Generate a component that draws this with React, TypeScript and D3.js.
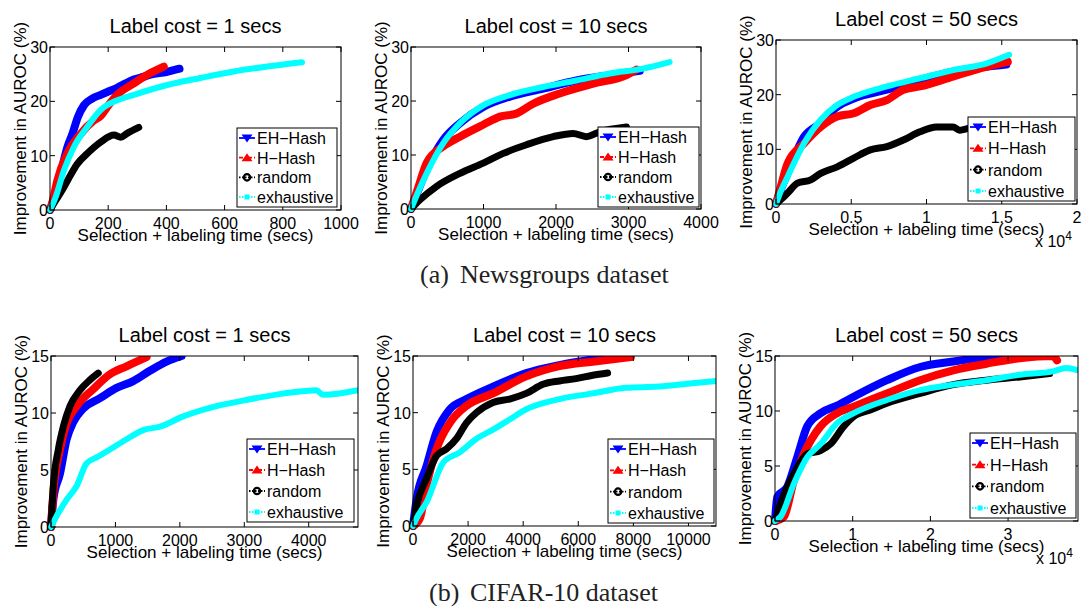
import React from 'react';
import * as d3 from 'd3';

type Pt = [number, number];

// Newsgroups dataset, label cost = 1 s
const news1EH: Pt[] = [[0,0],[10,1.5],[25,4.2],[42,7.9],[60,11.6],[77,14],[95,17],[117,19.3],[145,20.5],[174,21.2],[200,21.8],[231,22.5],[260,23.3],[288,24],[320,24.5],[345,24.9],[400,25.4],[445,26]];
const news1H: Pt[] = [[0,0],[10,1.8],[25,5.4],[60,10.4],[105,14],[151,16.5],[174,17.3],[197,19],[231,21.2],[288,23.3],[345,25.2],[391,26.4]];
const news1Rand: Pt[] = [[0,0],[19,1.7],[40,3.5],[60,5.4],[94,8.5],[128,10.4],[174,12.5],[220,13.8],[243,13.4],[265,14.1],[305,15.2]];
const news1Exh: Pt[] = [[0,0],[19,2.3],[48,7.3],[82,11.6],[128,15.3],[174,18.4],[231,20.2],[288,21.2],[403,23],[517,24.3],[632,25.5],[746,26.4],[866,27.2]];

// Newsgroups dataset, label cost = 10 s
const news10EH: Pt[] = [[0,0],[100,3.5],[216,7.3],[445,12.8],[675,15.9],[996,18.9],[1364,20.8],[1823,22.3],[2282,23.8],[2741,24.8],[3154,25.6]];
const news10H: Pt[] = [[0,0],[100,4],[216,8.5],[445,11.6],[675,13.4],[996,15.6],[1226,17.1],[1456,17.7],[1686,19.5],[2053,21.4],[2512,23.2],[2971,24.8],[3108,25.8]];
const news10Rand: Pt[] = [[0,0],[124,1.7],[354,4.2],[675,6.6],[996,8.5],[1272,10.3],[1593,11.9],[1961,13.4],[2236,14],[2420,13.4],[2603,14.3],[2971,15.2]];
const news10Exh: Pt[] = [[0,0],[100,3.2],[216,6.6],[445,12.2],[675,15.9],[996,19.2],[1364,21.1],[1823,22.6],[2282,23.8],[2741,25.1],[3200,26],[3567,27.2]];

// Newsgroups dataset, label cost = 50 s
const news50EH: Pt[] = [[0,0],[300,2.5],[770,5.6],[1868,12.3],[2967,14.8],[4066,17.8],[5165,19.3],[7363,20.9],[9560,22.7],[11758,24.2],[13956,25.1],[15300,25.5]];
const news50H: Pt[] = [[0,0],[300,3],[770,7.4],[1868,11.1],[2967,14.1],[4066,16],[5165,16.6],[6264,18.1],[7363,19],[8462,20.9],[9560,21.5],[11758,23.3],[13956,25.1],[15400,26]];
const news50Rand: Pt[] = [[0,0],[400,1],[770,2],[1429,3.8],[2308,4.4],[2967,5.6],[4066,6.8],[5165,8.4],[6264,9.9],[7363,10.5],[8462,11.7],[9560,13.2],[10659,14.1],[11758,14.1],[12198,13.5],[13077,14.1],[14500,15]];
const news50Exh: Pt[] = [[0,0],[300,2.2],[770,5],[1868,11.1],[2967,15.4],[4066,18.1],[5165,19.6],[7363,21.5],[9560,23],[11758,24.5],[13956,25.7],[15495,27.3]];

// CIFAR-10 dataset, label cost = 1 s
const cifar1EH: Pt[] = [[0,0],[36,2.4],[140,4.7],[243,7.7],[346,9.2],[501,10.4],[760,11.3],[1018,12.2],[1276,12.8],[1535,13.7],[1793,14.5],[2026,15]];
const cifar1H: Pt[] = [[0,0],[36,3],[140,6.8],[243,9.1],[398,10.6],[656,12.1],[915,13.4],[1173,14.1],[1483,14.9]];
const cifar1Rand: Pt[] = [[0,0],[36,3.6],[114,6.8],[191,8.8],[295,10.6],[450,12],[605,12.9],[734,13.5]];
const cifar1Exh: Pt[] = [[0,0],[62,0.7],[243,2.4],[398,3.6],[553,5.6],[708,6.1],[915,6.8],[1173,7.7],[1432,8.5],[1690,8.8],[2052,9.7],[2568,10.6],[3085,11.2],[3602,11.7],[4119,12],[4222,11.6],[4765,12]];

// CIFAR-10 dataset, label cost = 10 s
const cifar10EH: Pt[] = [[0,0],[133,2.4],[494,5.3],[856,8.3],[1338,10.3],[1941,11.2],[2905,12.3],[4111,13.5],[5316,14.2],[6522,14.7],[7366,15]];
const cifar10H: Pt[] = [[0,0],[253,0.7],[494,3.6],[856,6.8],[1338,9.1],[1941,10.6],[2905,11.7],[4111,13.2],[5316,14.1],[6522,14.5],[7908,14.9]];
const cifar10Rand: Pt[] = [[0,0],[133,1.8],[494,4.2],[856,6.2],[1218,6.8],[1579,7.7],[1941,9.1],[2303,10],[2905,10.9],[3508,11.2],[4111,11.7],[4714,12.5],[5316,12.8],[5919,13],[6522,13.3],[7064,13.5]];
const cifar10Exh: Pt[] = [[0,0],[133,0.7],[494,2.1],[1097,5.6],[1700,6.5],[2303,7.7],[2905,8.5],[3508,9.4],[4111,10.3],[5316,11.2],[6522,11.7],[7728,12.2],[8933,12.3],[10139,12.6],[11000,12.8]];

// CIFAR-10 dataset, label cost = 50 s
const cifar50EH: Pt[] = [[0,0],[300,2.2],[1580,3.1],[2863,5.8],[4145,8.6],[5855,9.8],[7991,10.5],[10128,11.3],[14401,12.8],[18675,14],[22949,14.5],[27222,14.9],[31282,15.2]];
const cifar50H: Pt[] = [[0,0],[1154,0.4],[2436,3.7],[3718,6.1],[5855,8.6],[7991,9.8],[10128,10.4],[14401,11.6],[18675,12.8],[22949,13.7],[27222,14.3],[31496,14.8],[35769,15],[36300,14.6]];
const cifar50Rand: Pt[] = [[0,0],[726,1.6],[2436,4.3],[4145,6.1],[5855,6.4],[7137,7],[8846,8.6],[10128,9.5],[12265,10.1],[14401,10.7],[18675,11.6],[22949,12.4],[27222,12.8],[31496,13.1],[35342,13.4]];
const cifar50Exh: Pt[] = [[0,0],[726,0.4],[2436,3.4],[4145,5.8],[5855,7],[7991,8.9],[10128,9.8],[14401,11],[18675,11.9],[22949,12.4],[27222,12.8],[31496,13.3],[35769,13.6],[37478,13.9],[39000,13.7]];

const seriesNames = ['EH\u2212Hash', 'H\u2212Hash', 'random', 'exhaustive'];
const seriesColors = ['#0000ff', '#ff0000', '#000000', '#00ffff'];

const titles = ['Label cost = 1 secs', 'Label cost = 10 secs', 'Label cost = 50 secs'];
const newsYTicks = [0, 10, 20, 30];
const cifarYTicks = [0, 5, 10, 15];
const news1XTicks = [0, 200, 400, 600, 800, 1000];
const news10XTicks = [0, 1000, 2000, 3000, 4000];
const news50XTicks = [0, 5000, 10000, 15000, 20000];
const cifar1XTicks = [0, 1000, 2000, 3000, 4000];
const cifar10XTicks = [0, 2000, 4000, 6000, 8000, 10000];
const cifar50XTicks = [0, 10000, 20000, 30000];
const captions = ['(a)', 'Newsgroups dataset', '(b)', 'CIFAR-10 dataset'];
const xLabel = 'Selection + labeling time (secs)';
const yLabel = 'Improvement in AUROC (%)';

type PanelSpec = {
  id: string; title: string;
  l: number; r: number; t: number; b: number;
  xMax: number; yMax: number; xTicks: number[]; yTicks: number[];
  exp: number; data: Pt[][];
  lg: { l: number; t: number; w: number; h: number };
};

const panels: PanelSpec[] = [
  { id: 'n1', title: titles[0], l: 50, r: 341, t: 47, b: 210, xMax: 1000, yMax: 30, xTicks: news1XTicks, yTicks: newsYTicks, exp: 0,
    data: [news1EH, news1H, news1Rand, news1Exh], lg: { l: 237, t: 128, w: 100, h: 79 } },
  { id: 'n10', title: titles[1], l: 411, r: 701, t: 47, b: 209, xMax: 4000, yMax: 30, xTicks: news10XTicks, yTicks: newsYTicks, exp: 0,
    data: [news10EH, news10H, news10Rand, news10Exh], lg: { l: 598, t: 127, w: 101, h: 80 } },
  { id: 'n50', title: titles[2], l: 776, r: 1077, t: 40, b: 204, xMax: 20000, yMax: 30, xTicks: news50XTicks, yTicks: newsYTicks, exp: 4,
    data: [news50EH, news50H, news50Rand, news50Exh], lg: { l: 968, t: 117, w: 107, h: 84 } },
  { id: 'c1', title: titles[0], l: 51, r: 358, t: 356, b: 527, xMax: 4765, yMax: 15, xTicks: cifar1XTicks, yTicks: cifarYTicks, exp: 0,
    data: [cifar1EH, cifar1H, cifar1Rand, cifar1Exh], lg: { l: 247, t: 439, w: 107, h: 83 } },
  { id: 'c10', title: titles[1], l: 413, r: 716, t: 356, b: 526, xMax: 11000, yMax: 15, xTicks: cifar10XTicks, yTicks: cifarYTicks, exp: 0,
    data: [cifar10EH, cifar10H, cifar10Rand, cifar10Exh], lg: { l: 608, t: 439, w: 106, h: 84 } },
  { id: 'c50', title: titles[2], l: 775, r: 1078, t: 356, b: 521, xMax: 39000, yMax: 15, xTicks: cifar50XTicks, yTicks: cifarYTicks, exp: 4,
    data: [cifar50EH, cifar50H, cifar50Rand, cifar50Exh], lg: { l: 970, t: 433, w: 106, h: 85 } },
];

const SANS = 'Liberation Sans, Arial, Helvetica, sans-serif';
const SERIF = 'Liberation Serif, Times New Roman, serif';
// marker-band thickness of each method's curve
const bandWidths = [8, 8, 7, 6];
const lineDash = [undefined, '4,2,1,2', '1.5,1.5', '1.5,1.5'];

function LegendMarker({ i, cx, cy }: { i: number; cx: number; cy: number }) {
  const c = seriesColors[i];
  if (i === 0) return <path d={`M${cx - 5.5},${cy - 3.5}L${cx + 5.5},${cy - 3.5}L${cx},${cy + 4.5}Z`} fill={c} />;
  if (i === 1) return <path d={`M${cx - 5.5},${cy + 3.5}L${cx + 5.5},${cy + 3.5}L${cx},${cy - 4.5}Z`} fill={c} />;
  if (i === 2) return <circle cx={cx} cy={cy} r={3.2} fill="none" stroke={c} strokeWidth={2.2} />;
  return <rect x={cx - 2.5} y={cy - 2.5} width={5} height={5} fill={c} />;
}

function Panel({ p }: { p: PanelSpec }) {
  const x = d3.scaleLinear().domain([0, p.xMax]).range([p.l, p.r]);
  const y = d3.scaleLinear().domain([0, p.yMax]).range([p.b, p.t]);
  const line = d3.line<Pt>().x(d => x(d[0])).y(d => y(d[1])).curve(d3.curveMonotoneX);
  const cx = (p.l + p.r) / 2;
  const cy = (p.t + p.b) / 2;
  const fmt = (v: number) => (p.exp ? String(+(v / Math.pow(10, p.exp)).toFixed(2)) : String(v));
  const tk = 5;
  return (
    <g>
      <defs>
        <clipPath id={`clip-${p.id}`}>
          <rect x={p.l - 4} y={p.t} width={p.r - p.l + 4} height={p.b - p.t + 4} />
        </clipPath>
      </defs>
      <rect x={p.l} y={p.t} width={p.r - p.l} height={p.b - p.t} fill="#fff" />
      <g clipPath={`url(#clip-${p.id})`}>
        {p.data.map((s, i) => (
          <path key={i} d={line(s) || ''} fill="none" stroke={seriesColors[i]} strokeWidth={bandWidths[i]}
            strokeLinejoin="round" strokeLinecap="round" />
        ))}
      </g>
      {/* ticks point inward on all four sides */}
      {p.xTicks.map(v => (
        <g key={`x${v}`}>
          <line x1={x(v)} x2={x(v)} y1={p.b} y2={p.b - tk} stroke="#000" />
          <line x1={x(v)} x2={x(v)} y1={p.t} y2={p.t + tk} stroke="#000" />
          <text x={x(v)} y={p.b + 19} textAnchor="middle" fontSize={16} fontFamily={SANS}>{fmt(v)}</text>
        </g>
      ))}
      {p.yTicks.map(v => (
        <g key={`y${v}`}>
          <line x1={p.l} x2={p.l + tk} y1={y(v)} y2={y(v)} stroke="#000" />
          <line x1={p.r} x2={p.r - tk} y1={y(v)} y2={y(v)} stroke="#000" />
          <text x={p.l - 2} y={y(v) + 6} textAnchor="end" fontSize={16} fontFamily={SANS}>{v}</text>
        </g>
      ))}
      <rect x={p.l} y={p.t} width={p.r - p.l} height={p.b - p.t} fill="none" stroke="#000" strokeWidth={1} />
      <text x={cx} y={p.t - 14} textAnchor="middle" fontSize={20} fontFamily={SANS}>{p.title}</text>
      <text x={cx} y={p.b + 31} textAnchor="middle" fontSize={17} fontFamily={SANS}>{xLabel}</text>
      <text transform={`translate(${p.l - 24},${cy}) rotate(-90)`} textAnchor="middle" fontSize={17} fontFamily={SANS}>{yLabel}</text>
      {p.exp ? (
        <text x={p.r - 42} y={p.b + 43} fontSize={16} fontFamily={SANS}>
          x 10<tspan dy={-7} fontSize={12}>{p.exp}</tspan>
        </text>
      ) : null}
      {/* legend */}
      <rect x={p.lg.l} y={p.lg.t} width={p.lg.w} height={p.lg.h} fill="#fff" stroke="#000" strokeWidth={1} />
      {seriesNames.map((n, i) => {
        const ry = p.lg.t + 10 + i * (p.lg.h - 20) / 3;
        return (
          <g key={n}>
            <line x1={p.lg.l + 2} x2={p.lg.l + 18} y1={ry} y2={ry} stroke={seriesColors[i]} strokeWidth={1.8}
              strokeDasharray={lineDash[i]} />
            <LegendMarker i={i} cx={p.lg.l + 10} cy={ry} />
            <text x={p.lg.l + 20} y={ry + 6} fontSize={16} fontFamily={SANS}>{n}</text>
          </g>
        );
      })}
    </g>
  );
}

export default function App() {
  return (
    <svg width={1083} height={606} style={{ position: 'absolute', left: 0, top: 0, background: '#fff' }}>
      <rect width={1083} height={606} fill="#fff" />
      {panels.map(p => <Panel key={p.id} p={p} />)}
      <text x={420} y={283} fontSize={26} fontFamily={SERIF} fill="#222">{captions[0]}</text>
      <text x={460} y={283} fontSize={26} fontFamily={SERIF} fill="#222">{captions[1]}</text>
      <text x={429} y={601} fontSize={26} fontFamily={SERIF} fill="#222">{captions[2]}</text>
      <text x={470} y={601} fontSize={26} fontFamily={SERIF} fill="#222">{captions[3]}</text>
    </svg>
  );
}
